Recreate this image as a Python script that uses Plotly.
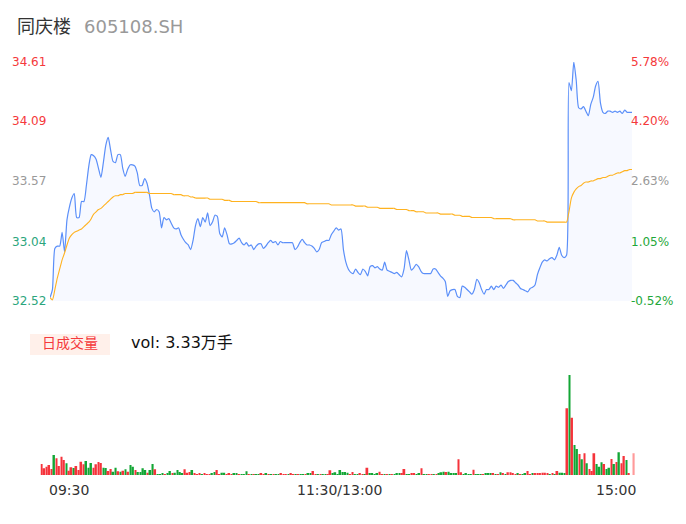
import plotly.graph_objects as go

# minute prices 09:30 .. 15:00 (241 points)
price = [
    32.55, 32.62, 32.98, 33.00, 33.00, 33.12, 32.95, 33.23, 33.34, 33.42,
    33.46, 33.25, 33.25, 33.39, 33.39, 33.53, 33.70, 33.80, 33.79, 33.76,
    33.68, 33.60, 33.73, 33.88, 33.95, 33.84, 33.74, 33.73, 33.80, 33.80,
    33.68, 33.61, 33.67, 33.71, 33.71, 33.70, 33.64, 33.53, 33.53, 33.59,
    33.55, 33.45, 33.33, 33.30, 33.32, 33.30, 33.16, 33.25, 33.23, 33.24,
    33.20, 33.16, 33.15, 33.16, 33.10, 33.06, 33.03, 33.01, 32.97, 33.05,
    33.18, 33.24, 33.17, 33.25, 33.21, 33.29, 33.18, 33.21, 33.27, 33.26,
    33.11, 33.08, 33.16, 33.10, 33.02, 33.02, 33.03, 33.05, 33.07, 33.03,
    33.01, 33.03, 33.00, 33.01, 32.97, 33.00, 33.02, 33.02, 32.98, 33.00,
    33.03, 33.05, 33.03, 33.04, 33.01, 33.04, 33.03, 33.03, 33.03, 33.03,
    33.03, 32.97, 32.99, 33.03, 33.06, 33.03, 33.01, 33.01, 33.00, 32.98,
    32.95, 32.97, 33.03, 33.04, 33.05, 33.05, 33.10, 33.13, 33.16, 33.14,
    33.15, 32.97, 32.86, 32.80, 32.77, 32.76, 32.80, 32.77, 32.75, 32.80,
    32.78, 32.74, 32.82, 32.83, 32.81, 32.82, 32.80, 32.79, 32.86, 32.79,
    32.78, 32.77, 32.76, 32.77, 32.75, 32.73, 32.80, 32.96, 32.88, 32.79,
    32.81, 32.84, 32.82, 32.78, 32.76, 32.76, 32.76, 32.76, 32.80, 32.80,
    32.77, 32.74, 32.72, 32.69, 32.56, 32.61, 32.62, 32.62, 32.56, 32.55,
    32.65, 32.64, 32.62, 32.60, 32.58, 32.62, 32.71, 32.68, 32.62, 32.58,
    32.62, 32.62, 32.65, 32.62, 32.65, 32.64, 32.66, 32.63, 32.66, 32.69,
    32.70, 32.70, 32.68, 32.66, 32.63, 32.62, 32.61, 32.60, 32.63, 32.64,
    32.66, 32.75, 32.81, 32.86, 32.88, 32.87, 32.89, 32.90, 32.88, 32.92,
    32.99, 32.92, 32.90, 32.92, 34.43, 34.36, 34.61, 34.45, 34.21, 34.20,
    34.22, 34.18, 34.14, 34.24, 34.30, 34.40, 34.44, 34.25, 34.17, 34.16,
    34.18, 34.18, 34.17, 34.18, 34.17, 34.18, 34.16, 34.19, 34.17, 34.17,
    34.17,
]

avg_price = [
    32.55, 32.53, 32.62, 32.72, 32.80, 32.88, 32.94, 33.01, 33.07, 33.10,
    33.12, 33.13, 33.14, 33.15, 33.17, 33.19, 33.21, 33.24, 33.28, 33.30,
    33.32, 33.33, 33.35, 33.37, 33.39, 33.41, 33.43, 33.44, 33.44, 33.45,
    33.45, 33.46, 33.46, 33.46, 33.46, 33.47, 33.47, 33.47, 33.47, 33.47,
    33.47, 33.46, 33.46, 33.46, 33.46, 33.46, 33.46, 33.46, 33.46, 33.46,
    33.46, 33.45, 33.45, 33.45, 33.45, 33.44, 33.44, 33.44, 33.43, 33.43,
    33.42, 33.42, 33.42, 33.42, 33.42, 33.42, 33.41, 33.41, 33.41, 33.41,
    33.41, 33.41, 33.40, 33.40, 33.40, 33.39, 33.39, 33.39, 33.39, 33.39,
    33.39, 33.39, 33.39, 33.39, 33.39, 33.39, 33.38, 33.38, 33.38, 33.38,
    33.38, 33.38, 33.38, 33.38, 33.38, 33.38, 33.38, 33.38, 33.38, 33.38,
    33.38, 33.38, 33.38, 33.38, 33.38, 33.38, 33.37, 33.37, 33.37, 33.37,
    33.37, 33.37, 33.37, 33.37, 33.37, 33.37, 33.36, 33.36, 33.36, 33.36,
    33.36, 33.36, 33.36, 33.36, 33.36, 33.36, 33.35, 33.35, 33.35, 33.35,
    33.35, 33.34, 33.34, 33.34, 33.34, 33.34, 33.33, 33.33, 33.33, 33.33,
    33.33, 33.33, 33.33, 33.32, 33.32, 33.32, 33.32, 33.32, 33.31, 33.31,
    33.31, 33.30, 33.30, 33.30, 33.30, 33.29, 33.29, 33.29, 33.29, 33.29,
    33.29, 33.28, 33.28, 33.28, 33.28, 33.28, 33.28, 33.27, 33.27, 33.27,
    33.26, 33.26, 33.26, 33.26, 33.25, 33.25, 33.25, 33.25, 33.25, 33.25,
    33.25, 33.25, 33.25, 33.24, 33.24, 33.24, 33.24, 33.24, 33.24, 33.24,
    33.24, 33.23, 33.23, 33.23, 33.23, 33.23, 33.23, 33.23, 33.23, 33.23,
    33.23, 33.22, 33.22, 33.22, 33.22, 33.21, 33.21, 33.21, 33.21, 33.21,
    33.21, 33.21, 33.21, 33.21, 33.30, 33.42, 33.47, 33.50, 33.52, 33.53,
    33.55, 33.56, 33.56, 33.57, 33.57, 33.58, 33.59, 33.59, 33.60, 33.60,
    33.61, 33.62, 33.62, 33.63, 33.64, 33.64, 33.65, 33.66, 33.66, 33.67,
    33.67,
]

# volume per minute (手) and direction: r = up, g = down, a = closing auction
volume = [
    297, 181, 224, 270, 162, 540, 451, 243, 494, 405,
    316, 116, 208, 189, 243, 135, 359, 289, 378, 197,
    324, 197, 289, 351, 324, 197, 189, 108, 162, 89,
    197, 100, 89, 116, 154, 89, 270, 224, 135, 81,
    81, 181, 135, 62, 135, 297, 154, 27, 27, 35,
    27, 46, 108, 46, 62, 135, 81, 46, 154, 62,
    81, 135, 46, 27, 46, 19, 46, 19, 19, 46,
    81, 135, 19, 62, 62, 19, 46, 27, 46, 46,
    19, 19, 19, 100, 27, 19, 19, 27, 27, 46,
    27, 54, 19, 19, 19, 19, 27, 46, 19, 27,
    19, 46, 27, 19, 19, 19, 27, 19, 35, 54,
    108, 19, 19, 19, 19, 27, 19, 127, 46, 73,
    19, 135, 81, 81, 62, 27, 81, 19, 19, 54,
    19, 27, 197, 46, 35, 27, 35, 89, 19, 19,
    19, 19, 27, 19, 54, 54, 46, 162, 19, 19,
    46, 46, 19, 46, 181, 19, 27, 8, 8, 19,
    19, 46, 73, 89, 81, 89, 46, 35, 54, 424,
    73, 27, 46, 27, 27, 143, 19, 19, 19, 19,
    35, 46, 35, 35, 19, 19, 73, 35, 19, 73,
    73, 35, 19, 46, 8, 19, 35, 108, 19, 35,
    46, 46, 46, 62, 62, 46, 27, 46, 19, 108,
    62, 62, 46, 1801, 2700, 1547, 810, 702, 567, 424,
    586, 316, 162, 108, 586, 297, 224, 343, 297, 162,
    197, 432, 297, 351, 613, 316, 513, 405, 35, 0,
    586,
]

direction = list(
    "rrrrrgrrrr" "grrgrrrrgg" "grrrrggrrg" "grgrgrggrg" "gggrggrggg"
    "rggrggggrr" "rgrrrgrrrg" "grrggrrrgg" "rgggrgrggr" "rgrgrggrrr"
    "grrgrggrgg" "rrgrggrrgg" "gggggrrggr"
    "rgrggggrrg" "rgrgggrrgg" "rrggrggrrg" "rgggrggggr"
    "rggggrgggr" "gggrgrgrgr" "rrrgrggrrg" "rrrrrrgrgr" "gggrgrggrg"
    "rgrrrgggrg" "grgrgrrgrg" "a"
)

price_ticks = [34.61, 34.09, 33.57, 33.04, 32.52]
pct_ticks = ["5.78%", "4.20%", "2.63%", "1.05%", "-0.52%"]
left_colors = ["#f5393b", "#f5393b", "#999999", "#2ba57c", "#2ba57c"]
right_colors = ["#f5393b", "#f5393b", "#999999", "#1fa83a", "#1fa83a"]
time_labels = ["09:30", "11:30/13:00", "15:00"]

n = len(price)
minutes = list(range(n))
direction = (direction + ["g"] * n)[:n]
bar_colors = {"r": "#f5333b", "g": "#13a635", "a": "#ff9a9a"}

W, H = 686, 524
FONT = "DejaVu Sans, Noto Sans CJK SC, sans-serif"

fig = go.Figure()
fig.add_trace(go.Scatter(
    x=minutes, y=price, mode="lines",
    line=dict(color="#5b8ff9", width=1.2, shape="spline", smoothing=0.6),
    fill="tozeroy", fillcolor="rgba(91,143,249,0.05)",
    xaxis="x", yaxis="y", hoverinfo="skip"))
fig.add_trace(go.Scatter(
    x=minutes, y=avg_price, mode="lines",
    line=dict(color="#ffb21f", width=1.1, shape="spline", smoothing=0.6),
    xaxis="x", yaxis="y", hoverinfo="skip"))
fig.add_trace(go.Bar(
    x=minutes, y=volume,
    marker=dict(color=[bar_colors[d] for d in direction], line=dict(width=0)),
    xaxis="x2", yaxis="y2", hoverinfo="skip"))

hidden = dict(visible=False, showgrid=False, zeroline=False, fixedrange=True)
fig.update_layout(
    width=W, height=H,
    margin=dict(l=0, r=0, t=0, b=0),
    paper_bgcolor="white", plot_bgcolor="white",
    showlegend=False, bargap=0.3,
    font=dict(family=FONT),
    xaxis=dict(domain=[50 / W, 632 / W], range=[0, n - 1], **hidden),
    yaxis=dict(domain=[1 - 301 / H, 1 - 62 / H],
               range=[price_ticks[-1], price_ticks[0]], **hidden),
    xaxis2=dict(domain=[40.5 / W, 635 / W], range=[-0.5, n - 0.5],
                anchor="y2", **hidden),
    yaxis2=dict(domain=[1 - 475 / H, 1 - 360 / H],
                range=[0, max(volume) * 1.15], anchor="x2", **hidden),
)

ann = []
# title
ann.append(dict(x=15 / W, y=1 - 26 / H, xref="paper", yref="paper",
                xanchor="left", yanchor="middle", showarrow=False,
                text="同庆楼", font=dict(size=18, color="#333333")))
ann.append(dict(x=82 / W, y=1 - 26 / H, xref="paper", yref="paper",
                xanchor="left", yanchor="middle", showarrow=False,
                text="605108.SH", font=dict(size=18, color="#999999")))

for v, t, lc, rc in zip(price_ticks, pct_ticks, left_colors, right_colors):
    ann.append(dict(x=48 / W, y=v, xref="paper", yref="y",
                    xanchor="right", yanchor="middle", showarrow=False,
                    text=f"{v:.2f}", font=dict(size=12, color=lc)))
    ann.append(dict(x=629 / W, y=v, xref="paper", yref="y",
                    xanchor="left", yanchor="middle", showarrow=False,
                    text=t, font=dict(size=12, color=rc)))

# volume header
ann.append(dict(x=70 / W, y=1 - 343 / H, xref="paper", yref="paper",
                xanchor="center", yanchor="middle", showarrow=False,
                text="日成交量", font=dict(size=14, color="#f5393b")))
ann.append(dict(x=129 / W, y=1 - 342 / H, xref="paper", yref="paper",
                xanchor="left", yanchor="middle", showarrow=False,
                text="vol: 3.33万手", font=dict(size=16, color="#111111")))

# time axis labels
ann.append(dict(x=47 / W, y=1 - 490 / H, xref="paper", yref="paper",
                xanchor="left", yanchor="middle", showarrow=False,
                text=time_labels[0], font=dict(size=14, color="#333333")))
ann.append(dict(x=339 / W, y=1 - 490 / H, xref="paper", yref="paper",
                xanchor="center", yanchor="middle", showarrow=False,
                text=time_labels[1], font=dict(size=14, color="#333333")))
ann.append(dict(x=638 / W, y=1 - 490 / H, xref="paper", yref="paper",
                xanchor="right", yanchor="middle", showarrow=False,
                text=time_labels[2], font=dict(size=14, color="#333333")))

fig.update_layout(annotations=ann)
fig.add_shape(type="rect", xref="paper", yref="paper",
              x0=30 / W, x1=110 / W, y0=1 - 355 / H, y1=1 - 334 / H,
              fillcolor="#fff0ea", line=dict(width=0), layer="below")

print(len(price), len(avg_price), len(volume), len(direction))
fig.write_html("out.html", config={"displayModeBar": False},
               post_script="document.body.style.margin='0';")
